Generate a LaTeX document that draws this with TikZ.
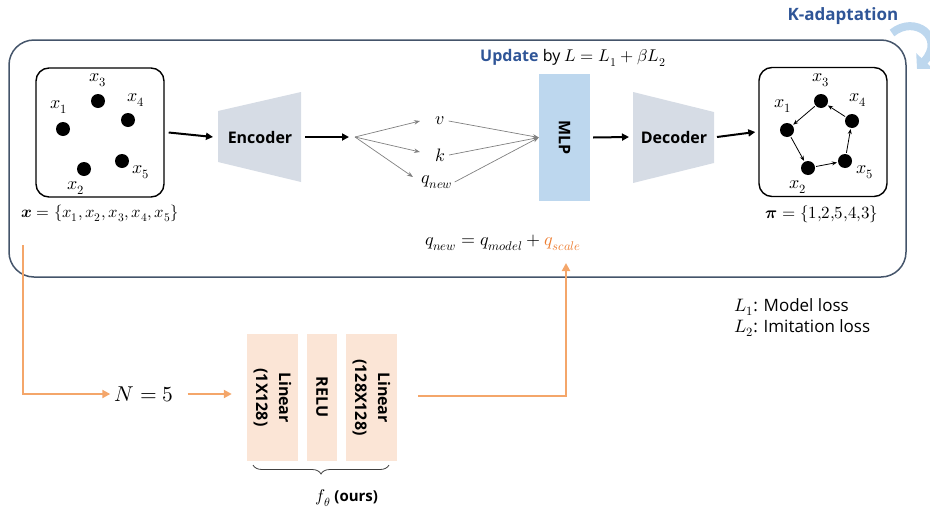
\documentclass[tikz,border=0pt]{standalone}
\usepackage{amsmath}
\usepackage{fontspec}
\usepackage{unicode-math}
\setmainfont{Open Sans}
\setmathfont{Latin Modern Math}
\usetikzlibrary{arrows.meta,decorations.pathreplacing,calc}
\definecolor{framec}{HTML}{44546A}
\definecolor{ublue}{HTML}{2F5597}
\definecolor{lblue}{HTML}{BDD7EE}
\definecolor{trapc}{HTML}{D6DCE5}
\definecolor{peach}{HTML}{FBE5D6}
\definecolor{orng}{HTML}{F4A66A}
\definecolor{qorange}{HTML}{ED7D31}
\definecolor{fangray}{HTML}{808080}
\begin{document}
\begin{tikzpicture}[x=1pt,y=-1pt,
  mathtxt/.style={font=\fontsize{18}{21}\selectfont, inner sep=0pt},
  dot/.style={circle, fill=black, minimum size=14pt, inner sep=0pt},
  pointbox/.style={draw, line width=1.4pt, rounded corners=13pt, minimum width=128pt, minimum height=129pt, inner sep=0pt},
  blk/.style={-{Triangle[length=7pt,width=7pt]}, line width=2pt},
  fan/.style={fangray, line width=0.7pt, -{Stealth[length=6pt,width=4.5pt]}},
  cyc/.style={line width=0.8pt, -{Stealth[length=5pt,width=4pt]}, shorten >=1pt, shorten <=1pt},
  peachbox/.style={fill=peach, minimum height=127pt, inner sep=0pt},
  rottxt/.style={rotate=-90, font=\fontsize{16}{23}\selectfont\bfseries, align=center, inner sep=0pt},
  orarrow/.style={orng, line width=2.5pt, -{Triangle[length=8pt,width=8pt]}},
  bigtxt/.style={font=\fontsize{16}{19}\selectfont\bfseries, inner sep=0pt}
]
\useasboundingbox (0,0) rectangle (930,517);

% main frame
\node[draw=framec, line width=1.5pt, rounded corners=25pt, minimum width=897pt, minimum height=237pt, inner sep=0pt] (frame) at (457.5,158.5) {};

% K-adaptation
\node[font=\fontsize{17}{20}\selectfont\bfseries, text=ublue, inner sep=0pt] (kad) at (843,16) {K-adaptation};
\coordinate (ka1) at (892,33);
\coordinate (ka2) at (917,69);
\draw[lblue, line width=8pt, -{Triangle[length=11pt,width=22pt]}] (ka1) .. controls (915,14) and (946,38) .. (ka2);

% Update text
\node[font=\fontsize{16}{19}\selectfont, inner sep=0pt] (upd) at (573,58) {\textcolor{ublue}{\textbf{Update}} by {\fontsize{17}{20}\selectfont$L=L_1+\beta L_2$}};

% left point box
\node[pointbox] (lbox) at (100,132.5) {};
\node[dot] (a1) at (63,129) {};
\node[dot] (a2) at (84,169) {};
\node[dot] (a3) at (98,101) {};
\node[dot] (a4) at (128,120) {};
\node[dot] (a5) at (122,161) {};
\node[mathtxt] (la1) at (59,107) {$x_1$};
\node[mathtxt] (la2) at (76,188) {$x_2$};
\node[mathtxt] (la3) at (98,80) {$x_3$};
\node[mathtxt] (la4) at (136,100) {$x_4$};
\node[mathtxt] (la5) at (141,172) {$x_5$};
\node[mathtxt, font=\fontsize{16.5}{19}\selectfont] (xset) at (100,213) {$\symbfit{x}=\{x_1,x_2,x_3,x_4,x_5\}$};

% Encoder
\fill[trapc] (218,111) -- (301,92) -- (301,182) -- (218,162) -- cycle;
\coordinate (encL) at (218,137);
\coordinate (encR) at (301,137);
\node[bigtxt] (enc) at (260,137) {Encoder};
\coordinate (lboxE) at ([xshift=4pt]lbox.east);
\draw[blk] (lboxE) -- ([xshift=-5pt]encL);
\coordinate (fanpt) at (355,137);
\draw[blk] ([xshift=4pt]encR) -- ([xshift=-6pt]fanpt);

% v k q
\node[mathtxt] (v) at (440,121) {$v$};
\node[mathtxt] (k) at (440,155) {$k$};
\node[mathtxt] (q) at (437,182) {$q_{new}$};
\draw[fan] (fanpt) -- (420,121);
\draw[fan] (fanpt) -- (420,152);
\draw[fan] (fanpt) -- (413,177);

% MLP
\node[fill=lblue, minimum width=51pt, minimum height=127pt, inner sep=0pt] (mlp) at (564.5,137.5) {};
\node[rottxt, font=\fontsize{16}{18}\selectfont\bfseries] at (mlp) {MLP};
\draw[fan] ([xshift=4pt]v.east) -- (mlp.west);
\draw[fan] ([xshift=4pt]k.east) -- (mlp.west);
\draw[fan] ([xshift=2pt]q.east) -- (mlp.west);

% Decoder
\fill[trapc] (633,92) -- (714,112) -- (714,163) -- (633,183) -- cycle;
\coordinate (decL) at (633,137);
\coordinate (decR) at (714,137);
\node[bigtxt] (dec) at (674,137) {Decoder};
\draw[blk] ([xshift=3pt]mlp.east) -- ([xshift=-4pt]decL);

% right point box
\node[pointbox] (rbox) at (823,132) {};
\draw[blk] ([xshift=3pt]decR) -- ([xshift=-3pt]rbox.west);
\node[dot] (b1) at (787,130) {};
\node[dot] (b2) at (808,168) {};
\node[dot] (b3) at (821,101) {};
\node[dot] (b4) at (852,121) {};
\node[dot] (b5) at (845,161) {};
\node[mathtxt] (lb1) at (783,106) {$x_1$};
\node[mathtxt] (lb2) at (798,187) {$x_2$};
\node[mathtxt] (lb3) at (821,80) {$x_3$};
\node[mathtxt] (lb4) at (858,100) {$x_4$};
\node[mathtxt] (lb5) at (865,172) {$x_5$};
\draw[cyc] (b3) -- (b1);
\draw[cyc] (b1) -- (b2);
\draw[cyc] (b2) -- (b5);
\draw[cyc] (b5) -- (b4);
\draw[cyc] (b4) -- (b3);
\node[mathtxt, font=\fontsize{17}{20}\selectfont] (pi) at (822,214) {$\symbfit{\pi}=\{1{,}2{,}5{,}4{,}3\}$};

% q equation
\node[mathtxt] (qeq) at (503,243) {$q_{new}=q_{model}+\textcolor{qorange}{q_{scale}}$};

% loss legend
\node[font=\fontsize{17}{20}\selectfont, anchor=west, inner sep=0pt] (l1) at (734,307) {{\fontsize{18}{20}\selectfont$L_1$}: Model loss};
\node[font=\fontsize{17}{20}\selectfont, anchor=west, inner sep=0pt] (l2) at (734,328) {{\fontsize{18}{20}\selectfont$L_2$}: Imitation loss};

% bottom branch
\coordinate (xs) at (23,245);
\node[font=\fontsize{21.5}{25}\selectfont, inner sep=0pt] (n5) at (144,394) {$N=5$};
\draw[orarrow] (xs) |- ([xshift=-4pt]n5.west);

\node[peachbox, minimum width=51pt] (lin1) at (272.5,397.5) {};
\node[peachbox, minimum width=30pt] (relu) at (322,397) {};
\node[peachbox, minimum width=51pt] (lin2) at (371.5,397.5) {};
\node[rottxt] at (lin1) {Linear\\(1X128)};
\node[rottxt] at (relu) {RELU};
\node[rottxt] at (lin2) {Linear\\(128X128)};
\coordinate (n5E) at ([xshift=14pt]n5.east);
\coordinate (lin1W) at ([xshift=-15pt]lin1.west);
\draw[orarrow] (n5E) -- (n5E -| lin1W);
\coordinate (qsup) at (566,263);
\draw[orarrow] ([xshift=21pt,yshift=1.5pt]lin2.east) -| (qsup);

\draw[decorate, decoration={brace, mirror, amplitude=9pt}, line width=0.8pt, black!75] (253,465) -- (389,465);
\node[font=\fontsize{15}{18}\selectfont\bfseries, inner sep=0pt] (ftheta) at (347,498) {{\fontsize{17}{18}\selectfont$f_\theta$} (ours)};
\end{tikzpicture}
\end{document}
